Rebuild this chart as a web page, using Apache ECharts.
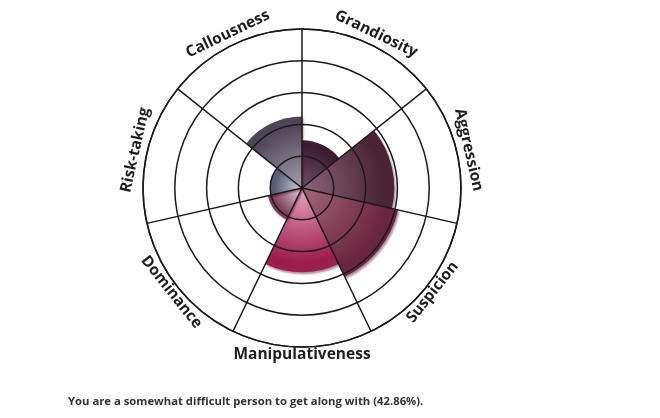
<!DOCTYPE html>
<html>
<head>
<meta charset="utf-8">
<script src="https://cdn.jsdelivr.net/npm/echarts@6/dist/echarts.min.js"></script>
<style>
html,body{margin:0;padding:0;background:#fff;}
#c{width:660px;height:418px;}
</style>
</head>
<body>
<div id="c"></div>
<script>
var categories = ['Grandiosity','Aggression','Suspicion','Manipulativeness','Dominance','Risk-taking','Callousness'];
var values = [1.5, 2.9, 3.1, 2.65, 1.1, 1.0, 2.25];
var innerColors = ['#6e5064','#8e6578','#a4677a','#e8a3c0','#ecd6de','#cfd1de','#a69eae'];
var outerColors = ['#3c1d30','#4a2435','#6a263e','#9c1e4c','#7a3b56','#5a5c76','#4f4557'];
var maxValue = 5;
var ringInterval = 1;
var summary = 'You are a somewhat difficult person to get along with (42.86%).';

var CX = 302, CY = 188, R = 159;

var chart = echarts.init(document.getElementById('c'));

var data = values.map(function(v, i){
  return {
    value: v,
    itemStyle: {
      color: {
        type: 'radial', x: CX, y: CY, r: v / maxValue * R, global: true,
        colorStops: [
          {offset: 0, color: innerColors[i]},
          {offset: 0.88, color: outerColors[i]},
          {offset: 1, color: outerColors[i]}
        ]
      },
      shadowBlur: 2,
      shadowOffsetX: 1.5,
      shadowOffsetY: 2,
      shadowColor: 'rgba(70,10,35,0.45)'
    }
  };
});

var n = categories.length;
var labels = categories.map(function(name, i){
  var theta = (i + 0.5) * 360 / n; // degrees clockwise from north
  var upper = (theta < 90 || theta > 270);
  var rr = upper ? 171 : 167;
  var rad = theta * Math.PI / 180;
  var rotCw = upper ? theta : theta - 180;
  return {
    type: 'text',
    x: CX + rr * Math.sin(rad),
    y: CY - rr * Math.cos(rad),
    rotation: -rotCw * Math.PI / 180,
    style: {
      text: name,
      fontSize: 15.5,
      fontWeight: 'bold',
      fontFamily: '"Open Sans", sans-serif',
      fill: '#1e1e1e',
      align: 'center',
      verticalAlign: 'middle'
    },
    z: 20
  };
});

chart.setOption({
  animation: false,
  backgroundColor: '#ffffff',
  title: {
    text: summary,
    left: 68,
    top: 396,
    padding: 0,
    textStyle: {fontSize: 11.3, fontWeight: 'bold', color: '#333333', fontFamily: '"Open Sans", sans-serif'}
  },
  polar: {center: [CX, CY], radius: R},
  angleAxis: {
    type: 'category',
    data: categories,
    startAngle: 90,
    clockwise: true,
    z: 10,
    axisLine: {show: true, lineStyle: {color: '#1a1a1a', width: 1.5}},
    axisTick: {show: false},
    axisLabel: {show: false},
    splitLine: {show: true, lineStyle: {color: '#1a1a1a', width: 1.5}}
  },
  radiusAxis: {
    min: 0,
    max: maxValue,
    interval: ringInterval,
    z: 10,
    axisLine: {show: false},
    axisTick: {show: false},
    axisLabel: {show: false},
    splitLine: {show: true, lineStyle: {color: '#1a1a1a', width: 1.5}}
  },
  series: [{
    type: 'bar',
    coordinateSystem: 'polar',
    barCategoryGap: '0%',
    barWidth: '100%',
    z: 2,
    data: data
  }],
  graphic: labels
});
</script>
</body>
</html>
